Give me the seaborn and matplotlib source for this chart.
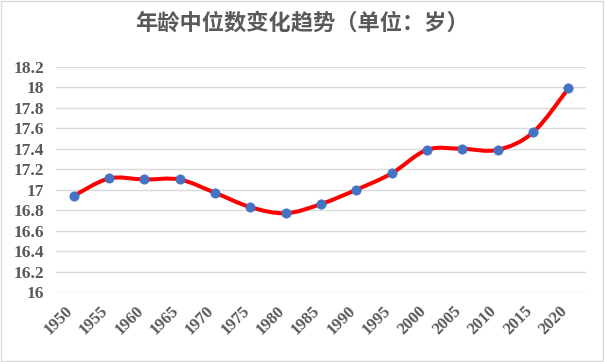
import matplotlib.pyplot as plt
import matplotlib.transforms as mtrans
import seaborn as sns
import pandas as pd
from matplotlib.path import Path
from matplotlib.patches import PathPatch, Rectangle

# 数据
years = [1950, 1955, 1960, 1965, 1970, 1975, 1980, 1985, 1990, 1995,
         2000, 2005, 2010, 2015, 2020]
median_age = [16.94, 17.11, 17.10, 17.10, 16.97, 16.83, 16.77, 16.86, 17.00, 17.16,
              17.39, 17.40, 17.39, 17.56, 17.99]
y_ticks = [16, 16.2, 16.4, 16.6, 16.8, 17, 17.2, 17.4, 17.6, 17.8, 18, 18.2]

df = pd.DataFrame({'年份': years, '年龄中位数': median_age})

sns.set_style('white')
plt.rcParams['font.family'] = ['Liberation Serif', 'Noto Sans CJK SC']

GRAY = '#595959'
fig = plt.figure(figsize=(6.05, 3.62), dpi=100)
ax = fig.add_axes([0.0926, 0.1934, 0.876, 0.6215])

# 平滑曲线 (类似 Excel 平滑线)
pts = list(zip(df['年份'], df['年龄中位数']))
verts = [pts[0]]
codes = [Path.MOVETO]
n = len(pts)
for i in range(n - 1):
    p0 = pts[i - 1] if i > 0 else pts[i]
    p1 = pts[i]
    p2 = pts[i + 1]
    p3 = pts[i + 2] if i + 2 < n else pts[i + 1]
    c1 = (p1[0] + (p2[0] - p0[0]) / 6, p1[1] + (p2[1] - p0[1]) / 6)
    c2 = (p2[0] - (p3[0] - p1[0]) / 6, p2[1] - (p3[1] - p1[1]) / 6)
    verts += [c1, c2, p2]
    codes += [Path.CURVE4] * 3
ax.add_patch(PathPatch(Path(verts, codes), facecolor='none', edgecolor='#FF0000',
                       lw=2.9, capstyle='round', joinstyle='round', zorder=3))

sns.scatterplot(data=df, x='年份', y='年龄中位数', ax=ax, s=45, color='#4472C4',
                edgecolor='#4472C4', linewidth=0.5, zorder=4)

ax.set_xlim(1947.5, 2022.5)
ax.set_ylim(16, 18.2)
ax.set_yticks(y_ticks)
ax.set_yticklabels([f'{v:g}' for v in y_ticks], fontsize=12.5, fontweight='bold',
                   fontfamily='Liberation Serif')
ax.set_xticks(years)
ax.set_xticklabels([str(y) for y in years], rotation=45, ha='right', va='top',
                   rotation_mode='anchor', fontsize=12, fontweight='bold',
                   fontfamily='Liberation Serif')
ax.grid(axis='y', color='#d9d9d9', lw=1)
ax.grid(axis='x', visible=False)
ax.tick_params(axis='both', length=0, labelcolor=GRAY)
ax.tick_params(axis='y', pad=8.5)
ax.tick_params(axis='x', pad=8)
shift = mtrans.ScaledTranslation(-9 / 100, 0, fig.dpi_scale_trans)
for lab in ax.get_xticklabels():
    lab.set_transform(lab.get_transform() + shift)
for s in ax.spines.values():
    s.set_visible(False)
ax.set_xlabel('')
ax.set_ylabel('')

fig.text(0.5, 0.936, '年龄中位数变化趋势（单位：岁）', ha='center', va='center',
         fontsize=16, fontweight='bold', color=GRAY, family=['Noto Sans CJK SC'])

fig.patches.append(Rectangle((0.002, 0.003), 0.995, 0.993, transform=fig.transFigure,
                             fill=False, edgecolor='#d9d9d9', lw=1))

fig.savefig('out.png', dpi=100)
